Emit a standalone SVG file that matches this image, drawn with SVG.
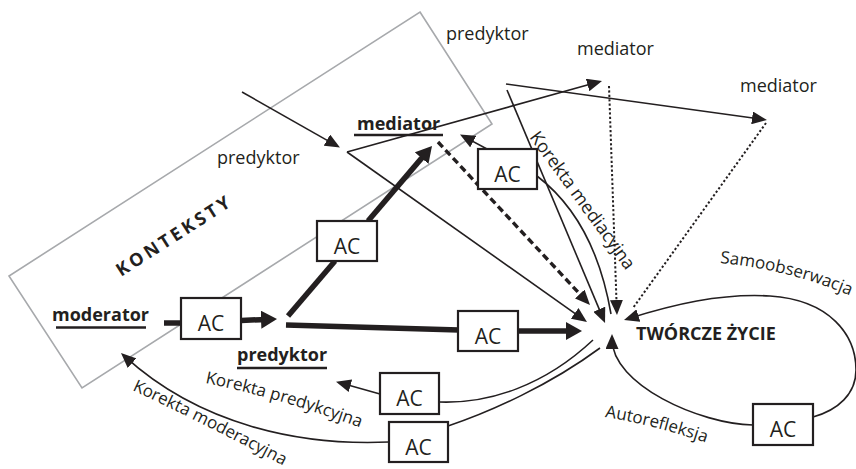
<svg xmlns="http://www.w3.org/2000/svg" width="856" height="469" viewBox="0 0 856 469">
  <style>
    .t { font-family: "Open Sans", "Liberation Sans", sans-serif; font-size: 18px; fill: #231f20; }
    .b { font-weight: 700; }
    .s { font-size: 17px; }
    .ac { font-size: 21px; text-anchor: middle; }
    .box { fill: #fff; stroke: #231f20; stroke-width: 2.2; }
    .ln { fill: none; stroke: #231f20; stroke-width: 1.6; }
    .thick { stroke-width: 5.5; }
    .dot { stroke-width: 2; stroke-dasharray: 2.2 2.2; }
    .dash { stroke-width: 3.4; stroke-dasharray: 7 4; }
    .ul { stroke: #231f20; stroke-width: 2.5; }
  </style>
  <defs>
    <marker id="arr" markerUnits="userSpaceOnUse" markerWidth="15" markerHeight="13" refX="10" refY="6.5" orient="auto">
      <path d="M0,0 L15,6.5 L0,13 z" fill="#231f20"/>
    </marker>
    <marker id="arrBig" markerUnits="userSpaceOnUse" markerWidth="17" markerHeight="18" refX="6" refY="9" orient="auto">
      <path d="M0,0 L16,9 L0,18 z" fill="#231f20"/>
    </marker>
    <path id="pSamo" d="M720,263 Q787,269 851,296"/>
    <path id="pAuto" d="M605,417 Q650,424 707,443"/>
    <path id="pKorP" d="M205,383 Q280,398 364,429"/>
    <path id="pKorM" d="M132,390 Q205,424 284,466"/>
  </defs>

  <!-- context frame -->
  <g id="konteksty">
    <polygon points="420,12 492,124 82,388 9,276" fill="none" stroke="#a7a9ac" stroke-width="1.6"/>
    <text class="t b" x="121" y="277" font-size="14" letter-spacing="3.3" transform="rotate(-32.7 121 277)">KONTEKSTY</text>
  </g>

  <!-- connectors -->
  <g id="connectors">
    <!-- thick main path -->
    <path class="ln thick" d="M164,323 L182,323"/>
    <path class="ln thick" d="M241,320.5 L267,319.4" marker-end="url(#arrBig)"/>
    <path class="ln thick" d="M286,325 L459,330"/>
    <path class="ln thick" d="M518,331 L572,331" marker-end="url(#arrBig)"/>
    <path class="ln thick" d="M288,316 L335,261"/>
    <path class="ln thick" d="M368,221 L425.5,153.6" marker-end="url(#arrBig)"/>

    <!-- predictor lines -->
    <path class="ln" d="M242,92 L335.6,145.1" marker-end="url(#arr)"/>
    <path class="ln" d="M347,152 L597.2,82.3" marker-end="url(#arr)"/>
    <path class="ln" d="M347,152 L582.9,319.1" marker-end="url(#arr)"/>
    <path class="ln" d="M506,84 L762,119.3" marker-end="url(#arr)"/>
    <path class="ln" d="M507,90 L603.1,318.4" marker-end="url(#arr)"/>

    <!-- mediator paths -->
    <path class="ln dash" d="M438,142 L586.6,301.3" marker-end="url(#arr)"/>
    <path class="ln dot" d="M609,86 L616.8,310" marker-end="url(#arr)"/>
    <path class="ln dot" d="M766,123 L633,308"/>

    <!-- correction loops -->
    <path class="ln" d="M537,176 C575,205 600,250 611,314"/>
    <path class="ln" d="M487,149 L464.4,136.9" marker-end="url(#arr)"/>
    <path class="ln" d="M593,340 C545,385 490,404 439,402"/>
    <path class="ln" d="M380,394 L340.8,383" marker-end="url(#arr)"/>
    <path class="ln" d="M600,348 C550,385 490,412 448,426"/>
    <path class="ln" d="M389,442 C300,446 200,425 124.7,356.4" marker-end="url(#arr)"/>

    <!-- self loops -->
    <path class="ln" d="M753,425 C700,424 612,385 612,339" marker-end="url(#arr)"/>
    <path class="ln" d="M813,417 C838,410 856,394 856,370 C856,335 830,300 770,296 C720,293 672,305 628.8,318.5" marker-end="url(#arr)"/>
  </g>

  <!-- connector labels -->
  <g id="labels">
    <text class="t" font-size="17.5" transform="translate(529 137) rotate(54)">Korekta mediacyjna</text>
    <text class="t s"><textPath href="#pSamo">Samoobserwacja</textPath></text>
    <text class="t s"><textPath href="#pAuto">Autorefleksja</textPath></text>
    <text class="t s"><textPath href="#pKorP">Korekta predykcyjna</textPath></text>
    <text class="t s"><textPath href="#pKorM">Korekta moderacyjna</textPath></text>
  </g>

  <!-- variable nodes -->
  <g id="moderator">
    <text class="t b" x="52" y="321">moderator</text>
    <line class="ul" x1="56" y1="327.5" x2="146" y2="327.5"/>
  </g>
  <g id="predyktor-main">
    <text class="t b" x="237" y="361">predyktor</text>
    <line class="ul" x1="237" y1="368" x2="327" y2="368"/>
  </g>
  <g id="mediator-main">
    <text class="t b" x="357" y="130">mediator</text>
    <line class="ul" x1="354" y1="135" x2="443" y2="135"/>
  </g>
  <g id="predyktor-left">
    <text class="t" x="217" y="164">predyktor</text>
  </g>
  <g id="predyktor-top">
    <text class="t" x="446" y="40">predyktor</text>
  </g>
  <g id="mediator-top">
    <text class="t" x="577" y="55">mediator</text>
  </g>
  <g id="mediator-right">
    <text class="t" x="740" y="92">mediator</text>
  </g>
  <g id="tworcze-zycie">
    <text class="t b" x="636" y="340">TWÓRCZE ŻYCIE</text>
  </g>

  <!-- AC blocks -->
  <g id="ac-moderator">
    <rect class="box" x="181" y="298" width="60" height="41"/>
    <text class="t ac" x="211" y="331">AC</text>
  </g>
  <g id="ac-mediator">
    <rect class="box" x="317" y="221" width="60" height="40"/>
    <text class="t ac" x="347" y="254">AC</text>
  </g>
  <g id="ac-korekta-mediacyjna">
    <rect class="box" x="478" y="149" width="59" height="40"/>
    <text class="t ac" x="507.5" y="182">AC</text>
  </g>
  <g id="ac-predyktor">
    <rect class="box" x="458" y="311" width="60" height="40"/>
    <text class="t ac" x="488" y="344">AC</text>
  </g>
  <g id="ac-korekta-predykcyjna">
    <rect class="box" x="380" y="373" width="59" height="41"/>
    <text class="t ac" x="409.5" y="406">AC</text>
  </g>
  <g id="ac-korekta-moderacyjna">
    <rect class="box" x="389" y="422" width="59" height="40"/>
    <text class="t ac" x="418.5" y="455">AC</text>
  </g>
  <g id="ac-autorefleksja">
    <rect class="box" x="753" y="404" width="60" height="41"/>
    <text class="t ac" x="783" y="437">AC</text>
  </g>
</svg>
